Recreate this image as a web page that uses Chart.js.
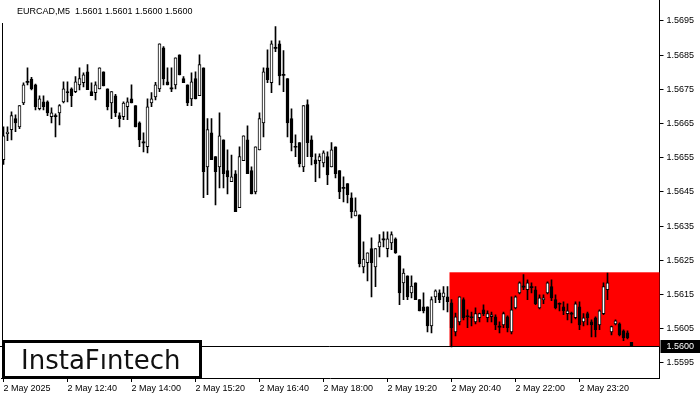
<!DOCTYPE html>
<html>
<head>
<meta charset="utf-8">
<script src="https://cdn.jsdelivr.net/npm/chart.js@4.4.1/dist/chart.umd.min.js"></script>
<style>
  html, body { margin: 0; padding: 0; background: #fff; }
  #wrap { width: 700px; height: 400px; }
</style>
</head>
<body>
<div id="wrap"><canvas id="chart" width="700" height="400"></canvas></div>
<script>
// EURCAD M5, 2 May 2025, one entry per 5-minute candle
const symbolInfo = 'EURCAD,M5  1.5601 1.5601 1.5600 1.5600'
const timeLabels = ['2 May 2025', '2 May 12:40', '2 May 14:00', '2 May 15:20', '2 May 16:40',
  '2 May 18:00', '2 May 19:20', '2 May 20:40', '2 May 22:00', '2 May 23:20']
const priceTicks = [1.5595, 1.5605, 1.5615, 1.5625, 1.5635, 1.5645, 1.5655, 1.5665, 1.5675, 1.5685, 1.5695]

const opens = [
  1.56544, 1.56620, 1.56632, 1.56664, 1.56640, 1.56710, 1.56770, 1.56780, 1.56763, 1.56693,
  1.56713, 1.56713, 1.56670, 1.56673, 1.56681, 1.56713, 1.56743, 1.56751, 1.56743, 1.56763,
  1.56769, 1.56801, 1.56743, 1.56740, 1.56751, 1.56801, 1.56751, 1.56710, 1.56731, 1.56673,
  1.56670, 1.56699, 1.56722, 1.56702, 1.56652, 1.56594, 1.56582, 1.56710, 1.56728, 1.56751,
  1.56871, 1.56772, 1.56751, 1.56763, 1.56851, 1.56781, 1.56763, 1.56722, 1.56781, 1.56731,
  1.56813, 1.56523, 1.56623, 1.56553, 1.56523, 1.56602, 1.56512, 1.56480, 1.56503, 1.56404,
  1.56541, 1.56602, 1.56512, 1.56450, 1.56573, 1.56652, 1.56813, 1.56769, 1.56871, 1.56883,
  1.56792, 1.56781, 1.56664, 1.56582, 1.56594, 1.56523, 1.56705, 1.56602, 1.56544, 1.56541,
  1.56535, 1.56553, 1.56523, 1.56582, 1.56512, 1.56462, 1.56474, 1.56433, 1.56380, 1.56383,
  1.56231, 1.56243, 1.56284, 1.56231, 1.56289, 1.56313, 1.56284, 1.56301, 1.56313, 1.56263,
  1.56184, 1.56205, 1.56155, 1.56184, 1.56135, 1.56114, 1.56114, 1.56058, 1.56143, 1.56155,
  1.56143, 1.56143, 1.56126, 1.56041, 1.56070, 1.56135, 1.56088, 1.56085, 1.56070, 1.56082,
  1.56105, 1.56082, 1.56085, 1.56085, 1.56056, 1.56061, 1.56085, 1.56041, 1.56111, 1.56155,
  1.56173, 1.56164, 1.56173, 1.56164, 1.56111, 1.56135, 1.56155, 1.56173, 1.56135, 1.56123,
  1.56114, 1.56094, 1.56094, 1.56082, 1.56114, 1.56070, 1.56094, 1.56070, 1.56082, 1.56061,
  1.56094, 1.56164, 1.56041, 1.56064, 1.56064, 1.56044, 1.56038, 1.56010
]
const highs = [
  1.56640, 1.56640, 1.56684, 1.56675, 1.56702, 1.56769, 1.56813, 1.56785, 1.56765, 1.56731,
  1.56731, 1.56716, 1.56696, 1.56678, 1.56705, 1.56772, 1.56772, 1.56754, 1.56787, 1.56813,
  1.56798, 1.56822, 1.56769, 1.56772, 1.56813, 1.56801, 1.56751, 1.56743, 1.56735, 1.56681,
  1.56713, 1.56725, 1.56763, 1.56702, 1.56655, 1.56623, 1.56722, 1.56740, 1.56770, 1.56883,
  1.56875, 1.56813, 1.56813, 1.56842, 1.56851, 1.56787, 1.56763, 1.56798, 1.56801, 1.56851,
  1.56813, 1.56664, 1.56664, 1.56553, 1.56681, 1.56602, 1.56573, 1.56558, 1.56512, 1.56582,
  1.56614, 1.56643, 1.56523, 1.56582, 1.56681, 1.56813, 1.56865, 1.56892, 1.56933, 1.56892,
  1.56863, 1.56781, 1.56693, 1.56617, 1.56594, 1.56702, 1.56719, 1.56614, 1.56561, 1.56561,
  1.56570, 1.56567, 1.56594, 1.56582, 1.56512, 1.56494, 1.56474, 1.56447, 1.56433, 1.56383,
  1.56304, 1.56272, 1.56316, 1.56284, 1.56325, 1.56333, 1.56333, 1.56333, 1.56316, 1.56263,
  1.56225, 1.56205, 1.56205, 1.56184, 1.56135, 1.56155, 1.56114, 1.56143, 1.56164, 1.56164,
  1.56173, 1.56173, 1.56135, 1.56096, 1.56143, 1.56140, 1.56105, 1.56099, 1.56111, 1.56096,
  1.56120, 1.56102, 1.56099, 1.56091, 1.56070, 1.56099, 1.56088, 1.56143, 1.56146, 1.56187,
  1.56208, 1.56193, 1.56184, 1.56173, 1.56149, 1.56149, 1.56187, 1.56193, 1.56149, 1.56126,
  1.56129, 1.56123, 1.56099, 1.56129, 1.56129, 1.56094, 1.56099, 1.56076, 1.56085, 1.56105,
  1.56184, 1.56213, 1.56058, 1.56076, 1.56067, 1.56047, 1.56044, 1.56010
]
const lows = [
  1.56530, 1.56600, 1.56602, 1.56626, 1.56635, 1.56705, 1.56763, 1.56748, 1.56690, 1.56690,
  1.56690, 1.56673, 1.56652, 1.56611, 1.56646, 1.56710, 1.56713, 1.56699, 1.56740, 1.56748,
  1.56757, 1.56749, 1.56731, 1.56719, 1.56751, 1.56760, 1.56690, 1.56664, 1.56670, 1.56640,
  1.56661, 1.56661, 1.56710, 1.56640, 1.56582, 1.56567, 1.56564, 1.56699, 1.56719, 1.56743,
  1.56763, 1.56763, 1.56743, 1.56751, 1.56792, 1.56769, 1.56702, 1.56702, 1.56722, 1.56731,
  1.56433, 1.56442, 1.56544, 1.56412, 1.56462, 1.56462, 1.56444, 1.56480, 1.56392, 1.56404,
  1.56541, 1.56503, 1.56444, 1.56444, 1.56573, 1.56611, 1.56769, 1.56740, 1.56860, 1.56763,
  1.56743, 1.56611, 1.56570, 1.56553, 1.56523, 1.56509, 1.56553, 1.56529, 1.56480, 1.56491,
  1.56523, 1.56471, 1.56523, 1.56491, 1.56430, 1.56421, 1.56418, 1.56374, 1.56380, 1.56231,
  1.56213, 1.56190, 1.56143, 1.56173, 1.56260, 1.56289, 1.56260, 1.56281, 1.56270, 1.56120,
  1.56135, 1.56135, 1.56140, 1.56135, 1.56102, 1.56096, 1.56041, 1.56038, 1.56126, 1.56126,
  1.56105, 1.56099, 1.55997, 1.56029, 1.56061, 1.56076, 1.56053, 1.56058, 1.56064, 1.56070,
  1.56088, 1.56070, 1.56070, 1.56047, 1.56038, 1.56053, 1.56041, 1.56035, 1.56108, 1.56152,
  1.56164, 1.56135, 1.56155, 1.56120, 1.56108, 1.56123, 1.56152, 1.56132, 1.56108, 1.56102,
  1.56091, 1.56076, 1.56067, 1.56079, 1.56047, 1.56058, 1.56061, 1.56026, 1.56026, 1.56047,
  1.56091, 1.56135, 1.56032, 1.56061, 1.56029, 1.56015, 1.56020, 1.56000
]
const closes = [
  1.56614, 1.56625, 1.56673, 1.56652, 1.56702, 1.56763, 1.56773, 1.56751, 1.56699, 1.56722,
  1.56699, 1.56681, 1.56681, 1.56670, 1.56702, 1.56751, 1.56740, 1.56731, 1.56772, 1.56781,
  1.56792, 1.56749, 1.56731, 1.56763, 1.56813, 1.56760, 1.56699, 1.56743, 1.56681, 1.56664,
  1.56710, 1.56713, 1.56710, 1.56640, 1.56602, 1.56596, 1.56699, 1.56722, 1.56763, 1.56883,
  1.56780, 1.56763, 1.56754, 1.56842, 1.56792, 1.56769, 1.56710, 1.56772, 1.56722, 1.56822,
  1.56509, 1.56632, 1.56544, 1.56509, 1.56614, 1.56503, 1.56494, 1.56494, 1.56392, 1.56553,
  1.56614, 1.56503, 1.56444, 1.56582, 1.56664, 1.56801, 1.56778, 1.56883, 1.56871, 1.56789,
  1.56792, 1.56652, 1.56594, 1.56582, 1.56532, 1.56702, 1.56594, 1.56553, 1.56532, 1.56553,
  1.56564, 1.56500, 1.56573, 1.56503, 1.56450, 1.56462, 1.56442, 1.56392, 1.56395, 1.56240,
  1.56254, 1.56272, 1.56243, 1.56284, 1.56304, 1.56310, 1.56313, 1.56325, 1.56272, 1.56155,
  1.56213, 1.56143, 1.56175, 1.56135, 1.56102, 1.56102, 1.56058, 1.56135, 1.56161, 1.56135,
  1.56155, 1.56129, 1.56053, 1.56085, 1.56143, 1.56082, 1.56085, 1.56082, 1.56094, 1.56094,
  1.56094, 1.56094, 1.56091, 1.56061, 1.56056, 1.56094, 1.56053, 1.56105, 1.56143, 1.56184,
  1.56173, 1.56184, 1.56170, 1.56123, 1.56140, 1.56140, 1.56184, 1.56140, 1.56111, 1.56123,
  1.56102, 1.56102, 1.56094, 1.56123, 1.56061, 1.56082, 1.56082, 1.56061, 1.56047, 1.56102,
  1.56173, 1.56184, 1.56056, 1.56073, 1.56032, 1.56023, 1.56023, 1.56000
]

const lastPrice = 1.5600
// rectangle pattern marked on the chart
const boxStart = 112
const boxTop = 1.56215
const boxBottom = 1.55997

const wickData = lows.map((l, i) => ({ x: i, y: [l, highs[i]] }))
const isDoji = i => Math.abs(opens[i] - closes[i]) < 0.00003
const bodyData = opens.map((o, i) => {
  const c = closes[i]
  if (isDoji(i)) {
    const m = (o + c) / 2
    return { x: i, y: [m - 0.000015, m + 0.000015] }
  }
  return { x: i, y: [o, c] }
})

const axisFont = { family: '"Liberation Sans", Arial, sans-serif', size: 9 }

const overlay = {
  id: 'overlay',
  beforeDatasetsDraw(chart) {
    const { ctx, chartArea, scales: { x, y } } = chart
    const x0 = x.getPixelForValue(boxStart) - 2
    const y0 = y.getPixelForValue(boxTop)
    const y1 = y.getPixelForValue(boxBottom)
    ctx.save()
    ctx.fillStyle = '#ff0000'
    ctx.fillRect(x0, y0, chartArea.right - x0, y1 - y0)
    ctx.restore()
  },
  afterDraw(chart) {
    const { ctx, chartArea, scales: { y } } = chart
    const py = Math.round(y.getPixelForValue(lastPrice)) + 0.5
    ctx.save()
    ctx.strokeStyle = '#000'
    ctx.lineWidth = 1
    ctx.beginPath()
    ctx.moveTo(0, py)
    ctx.lineTo(chartArea.right, py)
    ctx.stroke()

    // left frame
    ctx.beginPath()
    ctx.moveTo(2.5, 23)
    ctx.lineTo(2.5, chartArea.bottom)
    ctx.stroke()

    // last price tag on the axis
    ctx.fillStyle = '#000'
    ctx.fillRect(chartArea.right + 1, py - 6.5, 700 - chartArea.right, 13)
    ctx.fillStyle = '#fff'
    ctx.font = '9px "Liberation Sans", Arial, sans-serif'
    ctx.textBaseline = 'middle'
    ctx.fillText(lastPrice.toFixed(4), chartArea.right + 7, py + 0.5)

    // symbol line
    ctx.fillStyle = '#000'
    ctx.fillText(symbolInfo, 17, 12)

    // logo
    ctx.fillStyle = '#fff'
    ctx.fillRect(2, 340, 200, 39)
    ctx.lineWidth = 3
    ctx.strokeStyle = '#000'
    ctx.strokeRect(3.5, 341.5, 197, 36)
    ctx.fillStyle = '#111'
    ctx.font = '26px "DejaVu Sans", sans-serif'
    ctx.textBaseline = 'alphabetic'
    ctx.fillText('InstaFıntech', 21, 369)
    ctx.restore()
  }
}

new Chart(document.getElementById('chart'), {
  type: 'bar',
  data: {
    datasets: [
      {
        data: bodyData,
        grouped: false,
        order: 1,
        barThickness: 3,
        borderSkipped: false,
        borderColor: '#000',
        borderWidth: ctx => isDoji(ctx.dataIndex) ? 0 : 1,
        backgroundColor: ctx => {
          const i = ctx.dataIndex
          return !isDoji(i) && closes[i] > opens[i] ? '#fff' : '#000'
        }
      },
      {
        data: wickData,
        grouped: false,
        order: 2,
        barThickness: 1,
        borderWidth: 0,
        backgroundColor: '#000'
      }
    ]
  },
  options: {
    responsive: false,
    animation: false,
    devicePixelRatio: 1,
    layout: { padding: { left: 1.5, top: 0, right: 0, bottom: 0 } },
    plugins: { legend: { display: false }, tooltip: { enabled: false } },
    scales: {
      x: {
        type: 'linear',
        offset: false,
        min: -0.5,
        max: 164,
        afterBuildTicks: s => { s.ticks = timeLabels.map((t, i) => ({ value: i * 16 })) },
        afterFit: s => {
          s.height = 22
          s.paddingLeft = 0
          s.paddingRight = 0
        },
        grid: { offset: false, drawOnChartArea: false, tickLength: 4, color: '#000' },
        border: { color: '#000' },
        ticks: {
          align: 'start',
          maxRotation: 0,
          autoSkip: false,
          padding: 1,
          color: '#000',
          font: axisFont,
          callback: v => timeLabels[v / 16]
        }
      },
      y: {
        position: 'right',
        min: 1.55906,
        max: 1.57011,
        afterBuildTicks: s => { s.ticks = priceTicks.map(v => ({ value: v })) },
        afterFit: s => {
          s.width = 40.5
          s.paddingTop = 0
          s.paddingBottom = 0
        },
        grid: { drawOnChartArea: false, tickLength: 4, color: '#000' },
        border: { color: '#000' },
        ticks: {
          padding: 3,
          color: '#000',
          font: axisFont,
          callback: v => v.toFixed(4)
        }
      }
    }
  },
  plugins: [overlay]
})
</script>
</body>
</html>
